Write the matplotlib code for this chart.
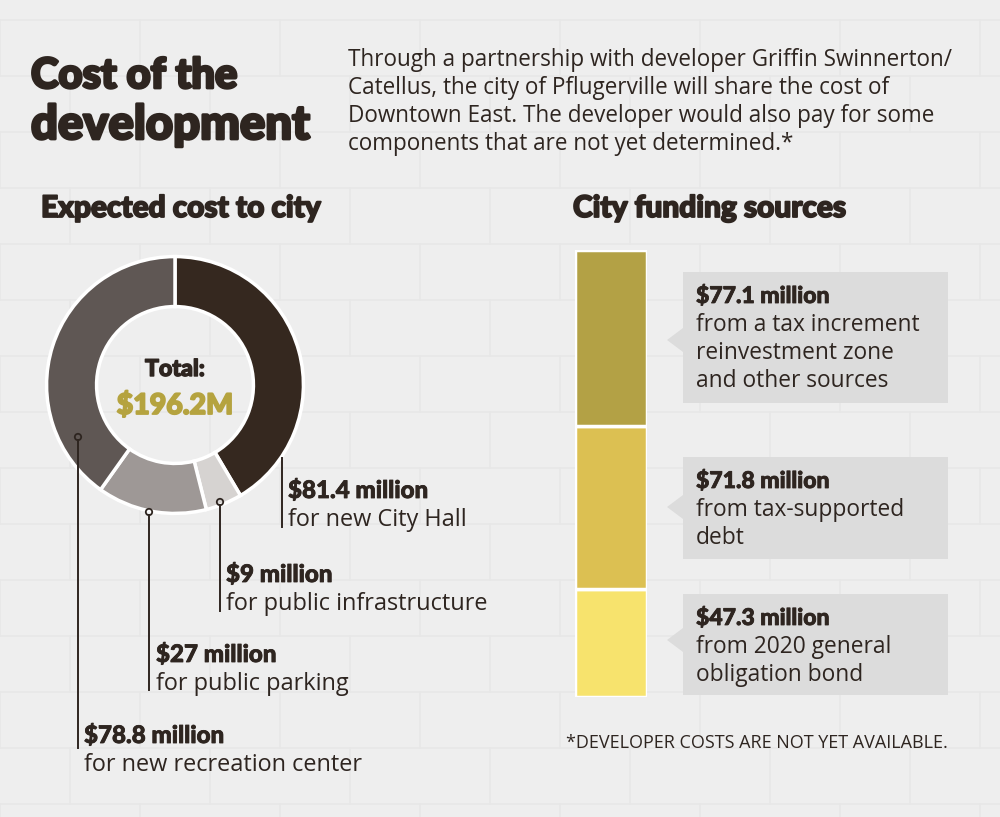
import matplotlib
matplotlib.use("Agg")
import matplotlib.pyplot as plt
import matplotlib.patheffects as pe
from matplotlib.patches import Polygon, Rectangle, Circle
from matplotlib.lines import Line2D

# ---------------- data ----------------
cost_labels = ["for new City Hall", "for public infrastructure",
               "for public parking", "for new recreation center"]
cost_values = [81.4, 9.0, 27.0, 78.8]
cost_value_text = ["$81.4 million", "$9 million", "$27 million", "$78.8 million"]
cost_colors = ["#35281f", "#d6d3d1", "#9e9896", "#5f5754"]

fund_values = [47.3, 71.8, 77.1]            # bottom -> top
fund_value_text = ["$47.3 million", "$71.8 million", "$77.1 million"]
fund_labels = [["from 2020 general", "obligation bond"],
               ["from tax-supported", "debt"],
               ["from a tax increment", "reinvestment zone", "and other sources"]]
fund_colors = ["#f7e36d", "#dcc052", "#b3a145"]

title_lines = ["Cost of the", "development"]
intro_lines = ["Through a partnership with developer Griffin Swinnerton/",
               "Catellus, the city of Pflugerville will share the cost of",
               "Downtown East. The developer would also pay for some",
               "components that are not yet determined.*"]
footnote = "*DEVELOPER COSTS ARE NOT YET AVAILABLE."

# ---------------- style ----------------
W, H = 1000, 817
BG = "#eeeeee"
INK = "#2e2520"
GOLD = "#b5a33f"
BOX = "#dcdcdc"
HEAD = "Lato"
BODY = "Open Sans"

fig = plt.figure(figsize=(W / 100, H / 100), dpi=100)
fig.patch.set_facecolor(BG)

# background axes (brick texture)
bg = fig.add_axes([0, 0, 1, 1])
bg.set_xlim(0, W)
bg.set_ylim(H, 0)
bg.axis("off")
bg.set_zorder(0)
for i, y in enumerate(range(20, H, 56)):
    bg.plot([0, W], [y, y], color="#e7e7e7", lw=1.2)
    off = 0 if i % 2 == 0 else 70
    for x in range(off, W + 140, 140):
        bg.plot([x, x], [y, y + 56], color="#e7e7e7", lw=1.2)

# overlay axes in pixel coordinates (text, leaders, callouts)
ov = fig.add_axes([0, 0, 1, 1])
ov.set_xlim(0, W)
ov.set_ylim(H, 0)
ov.axis("off")
ov.set_zorder(3)
ov.patch.set_alpha(0)

renderer = fig.canvas.get_renderer()


def fit(texts, target_w):
    """scale a group of texts so the widest matches target_w pixels"""
    wmax = max(t.get_window_extent(renderer).width for t in texts)
    for t in texts:
        t.set_fontsize(t.get_fontsize() * target_w / wmax)


def heavy(t, w=1.0, color=INK):
    t.set_path_effects([pe.withStroke(linewidth=w, foreground=color)])
    return t


def txt(x, y, s, size, weight="normal", family=BODY, color=INK, **kw):
    return ov.text(x, y, s, fontsize=size, fontweight=weight, family=family,
                   color=color, va="baseline", ha=kw.pop("ha", "left"), zorder=5, **kw)


# ---------------- header ----------------
t1 = [txt(31, 88, title_lines[0], 30, "black", HEAD),
      txt(31, 139, title_lines[1], 30, "black", HEAD)]
fit([t1[1]], 278)
for t in t1:
    heavy(t, 2.0)

intro = [txt(348, 66 + 28 * i, s, 15) for i, s in enumerate(intro_lines)]
fit(intro, 605)

h1 = txt(41, 217, "Expected cost to city", 20, "black", HEAD)
fit([h1], 280)
h2 = txt(573, 217, "City funding sources", 20, "black", HEAD)
fit([h2], 274)
heavy(h1, 1.3)
heavy(h2, 1.3)

# ---------------- donut ----------------
cx, cy, R, r_in = 175, 385, 131, 80
dax = fig.add_axes([(cx - R) / W, 1 - (cy + R) / H, 2 * R / W, 2 * R / H])
dax.pie(cost_values, colors=cost_colors, startangle=90, counterclock=False,
        radius=1, wedgeprops=dict(width=1 - r_in / R, edgecolor="white", linewidth=2.5))
dax.set_xlim(-1.02, 1.02)
dax.set_ylim(-1.02, 1.02)
dax.set_aspect("equal")
dax.axis("off")
dax.set_zorder(2)
dax.patch.set_alpha(0)

total = sum(cost_values)
tt = txt(cx, 376, "Total:", 16, "black", HEAD, ha="center")
fit([tt], 60)
heavy(tt, 1.0)
tv = txt(cx, 414, f"${total:.1f}M", 20, "black", HEAD, color=GOLD, ha="center")
fit([tv], 116)
heavy(tv, 1.3, GOLD)

# leader lines + labels (pixel positions)
leaders = [  # (x, y_start, y_end, has_dot, text_x, baseline1)
    (282, 458, 527, False, 288, 498),
    (220, 502, 611, True, 226, 582),
    (149, 512, 690, True, 156, 662),
    (78, 437, 748, True, 84, 743),
]
vals_t, labs_t = [], []
for (x, y0, y1, dot, tx, b1), vt, lt in zip(leaders, cost_value_text, cost_labels):
    ov.add_line(Line2D([x, x], [y0 + (3.2 if dot else 0), y1], color=INK, lw=1.4, zorder=6))
    if dot:
        ov.add_patch(Circle((x, y0), 3.2, facecolor="none", edgecolor=INK, lw=1.3, zorder=7))
    vals_t.append(txt(tx, b1, vt, 15, "black", HEAD))
    labs_t.append(txt(tx, b1 + 28, lt, 15))
fit([vals_t[0]], 141)
for t in vals_t:
    t.set_fontsize(vals_t[0].get_fontsize())
    heavy(t, 0.6)
fit([labs_t[0]], 179)
for t in labs_t[1:]:
    t.set_fontsize(labs_t[0].get_fontsize())

# ---------------- stacked bar ----------------
bx0, bx1, by0, by1 = 575, 647, 250, 697
bax = fig.add_axes([bx0 / W, 1 - by1 / H, (bx1 - bx0) / W, (by1 - by0) / H])
bottom = 0
for v, c in zip(fund_values, fund_colors):
    bax.bar(0, v, bottom=bottom, width=1.0, color=c, edgecolor="white", linewidth=2.5)
    bottom += v
bax.set_xlim(-0.5, 0.5)
bax.set_ylim(0, sum(fund_values))
bax.axis("off")
bax.set_zorder(2)
bax.patch.set_alpha(0)

# callout boxes (top -> bottom)
boxes = [  # (y_top, y_bot, tip_y, baseline of bold line)
    (272, 403, 340, 303),
    (457, 559, 507, 488),
    (594, 695, 640, 625),
]
fv_t, fl_t = [], []
for (yt, yb, tip, b1), vt, lines in zip(boxes, fund_value_text[::-1], fund_labels[::-1]):
    ov.add_patch(Rectangle((683, yt), 265, yb - yt, facecolor=BOX, edgecolor="none", zorder=1))
    ov.add_patch(Polygon([(683, tip - 12), (667, tip), (683, tip + 12)], closed=True,
                         facecolor=BOX, edgecolor="none", zorder=1))
    fv_t.append(txt(696, b1, vt, 15, "black", HEAD))
    for j, s in enumerate(lines):
        fl_t.append(txt(696, b1 + 28 * (j + 1), s, 15))
fit([fv_t[0]], 134)
for t in fv_t:
    t.set_fontsize(fv_t[0].get_fontsize())
    heavy(t, 0.6)
fit([fl_t[0]], 223)
for t in fl_t[1:]:
    t.set_fontsize(fl_t[0].get_fontsize())

fn = txt(948, 748, footnote, 11, ha="right")
fit([fn], 381)

fig.savefig("out.png", dpi=100, facecolor=BG)
